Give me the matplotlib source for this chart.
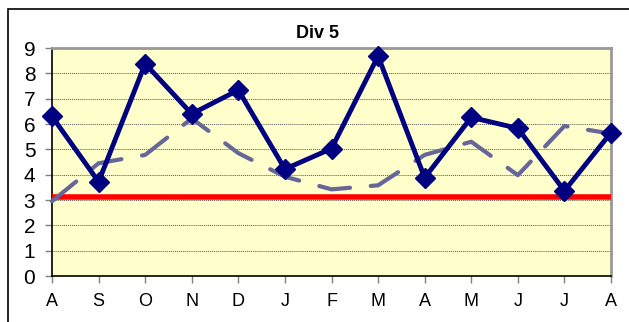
import matplotlib
matplotlib.use("Agg")
import matplotlib.pyplot as plt
from matplotlib.patches import Rectangle

months = ["A", "S", "O", "N", "D", "J", "F", "M", "A", "M", "J", "J", "A"]
actual = [6.3, 3.72, 8.38, 6.4, 7.34, 4.22, 5.03, 8.68, 3.88, 6.26, 5.83, 3.36, 5.66]
trend = [2.95, 4.45, 4.78, 6.22, 4.85, 3.92, 3.42, 3.58, 4.78, 5.3, 3.98, 5.92, 5.62]
target = 3.1

W, H = 629, 322
fig = plt.figure(figsize=(W / 100, H / 100), dpi=100)
plt.rcParams["font.family"] = ["Liberation Sans", "DejaVu Sans"]

# outer chart frame (runs off right/bottom edge)
fig.patches.append(Rectangle((8 / W, -0.1), 1.2, (H - 9) / H + 0.1, transform=fig.transFigure,
                             fill=False, edgecolor="black", lw=1.2))

ax = fig.add_axes([52 / W, 46 / H, (611 - 52) / W, (276 - 48) / H])
ax.set_facecolor("#FFFFCC")
x = list(range(len(months)))

ax.axhline(target, color="#FF0000", lw=4, zorder=3)
ax.plot(x, trend, color="#666699", lw=3, dashes=(7.5, 5), dash_capstyle="round",
        zorder=4, clip_on=False)
ax.plot(x, actual, color="#000080", lw=3.5, marker="D", ms=10, zorder=5, clip_on=False)

ax.set_xlim(0, len(months) - 1)
ax.set_ylim(0, 9)
ax.set_yticks(range(10))
ax.set_xticks(x)
ax.set_xticklabels(months, fontsize=13)
ax.tick_params(axis="y", labelsize=15, length=5, width=1, pad=7, color="#808080")
ax.tick_params(axis="x", length=5, width=1, pad=7, color="#808080")
ax.yaxis.grid(True, color="#555555", ls=(0, (1, 1)), lw=0.7)
ax.set_axisbelow(True)

for s in ["top", "right"]:
    ax.spines[s].set_color("#999999")
    ax.spines[s].set_linewidth(2)
for s in ["left", "bottom"]:
    ax.spines[s].set_color("black")
    ax.spines[s].set_linewidth(1.2)

fig.text(318 / W, 1 - 34 / H, "Div 5", ha="center", va="center", fontsize=13, fontweight="bold")

fig.savefig("out.png", dpi=100)
